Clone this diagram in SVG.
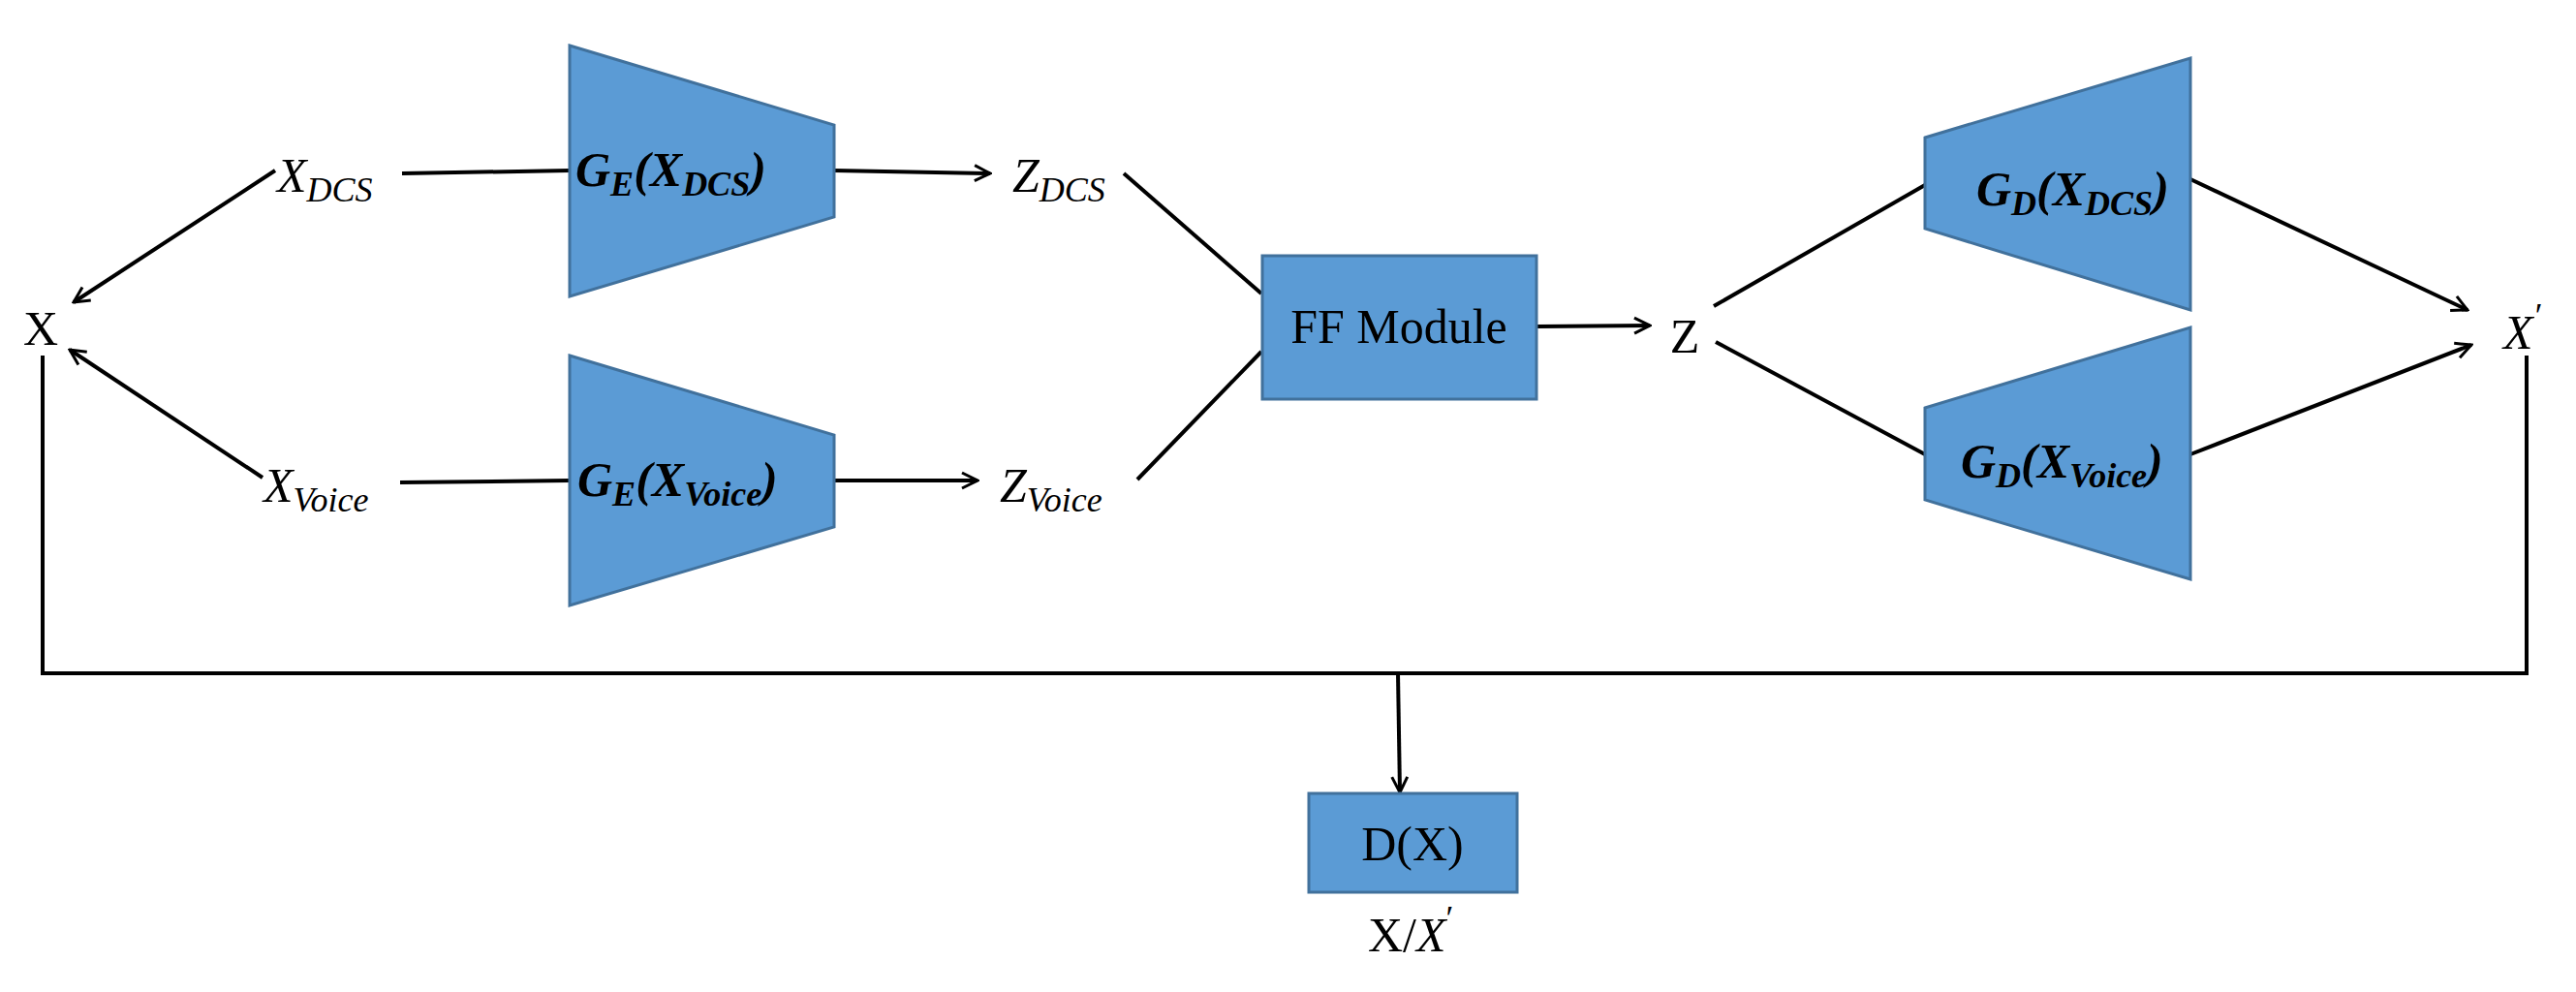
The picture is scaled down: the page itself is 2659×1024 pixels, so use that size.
<svg xmlns="http://www.w3.org/2000/svg" width="2659" height="1024" viewBox="0 0 2659 1024">
<defs>
<marker id="ah" viewBox="0 0 20 20" refX="18" refY="10" markerWidth="20" markerHeight="20" markerUnits="userSpaceOnUse" orient="auto">
<path d="M2,2 L18,10 L2,18" fill="none" stroke="#000" stroke-width="3"/>
</marker>
</defs>
<style>
.sh{fill:#5b9bd5;stroke:#41719c;stroke-width:3}
.c{fill:none;stroke:#000;stroke-width:4}
.t{font-family:"Liberation Serif",serif;font-size:50px;fill:#000}
.i{font-style:italic}
.b{font-weight:bold;font-style:italic}
.s{font-size:36px}
</style>
<rect width="2659" height="1024" fill="#fff"/>
<g id="connectors">
<line class="c" x1="415" y1="179" x2="588" y2="176"/>
<line class="c" x1="861" y1="176" x2="1022" y2="179" marker-end="url(#ah)"/>
<line class="c" x1="284" y1="176" x2="76" y2="312" marker-end="url(#ah)"/>
<line class="c" x1="271" y1="493" x2="72" y2="361" marker-end="url(#ah)"/>
<line class="c" x1="413" y1="498" x2="588" y2="496"/>
<line class="c" x1="861" y1="496" x2="1009" y2="496" marker-end="url(#ah)"/>
<line class="c" x1="1160" y1="179" x2="1302" y2="303"/>
<line class="c" x1="1174" y1="495" x2="1302" y2="363"/>
<line class="c" x1="1586" y1="337" x2="1703" y2="336" marker-end="url(#ah)"/>
<line class="c" x1="1769" y1="316" x2="1987" y2="191"/>
<line class="c" x1="1771" y1="353" x2="1987" y2="469"/>
<line class="c" x1="2261" y1="185" x2="2547" y2="320" marker-end="url(#ah)"/>
<line class="c" x1="2261" y1="469" x2="2551" y2="356" marker-end="url(#ah)"/>
<polyline class="c" points="44,367 44,695 2608,695 2608,367"/>
<line class="c" x1="1443" y1="695" x2="1445" y2="818" marker-end="url(#ah)"/>
</g>
<g id="X"><text class="t" x="42" y="356" text-anchor="middle">X</text></g>
<g id="XDCS"><text class="t i" x="286" y="198">X<tspan class="s" dy="10">DCS</tspan></text></g>
<g id="XVoice"><text class="t i" x="272" y="518">X<tspan class="s" dy="10">Voice</tspan></text></g>
<g id="GE_DCS"><polygon class="sh" points="588,47 861,129 861,224 588,306"/>
<text class="t b" x="594" y="192">G<tspan class="s" dy="10">E</tspan><tspan dy="-10">(X</tspan><tspan class="s" dy="10">DCS</tspan><tspan dy="-10">)</tspan></text></g>
<g id="GE_Voice"><polygon class="sh" points="588,367 861,449 861,544 588,625"/>
<text class="t b" x="596" y="512">G<tspan class="s" dy="10">E</tspan><tspan dy="-10">(X</tspan><tspan class="s" dy="10">Voice</tspan><tspan dy="-10">)</tspan></text></g>
<g id="ZDCS"><text class="t i" x="1045" y="198">Z<tspan class="s" dy="10">DCS</tspan></text></g>
<g id="ZVoice"><text class="t i" x="1032" y="518">Z<tspan class="s" dy="10">Voice</tspan></text></g>
<g id="FF"><rect class="sh" x="1303" y="264" width="283" height="148"/>
<text class="t" x="1444" y="354" text-anchor="middle">FF Module</text></g>
<g id="Z"><text class="t" x="1739" y="364" text-anchor="middle">Z</text></g>
<g id="GD_DCS"><polygon class="sh" points="1987,142 2261,60 2261,320 1987,236"/>
<text class="t b" x="2040" y="212">G<tspan class="s" dy="10">D</tspan><tspan dy="-10">(X</tspan><tspan class="s" dy="10">DCS</tspan><tspan dy="-10">)</tspan></text></g>
<g id="GD_Voice"><polygon class="sh" points="1987,421 2261,338 2261,598 1987,516"/>
<text class="t b" x="2024" y="493">G<tspan class="s" dy="10">D</tspan><tspan dy="-10">(X</tspan><tspan class="s" dy="10">Voice</tspan><tspan dy="-10">)</tspan></text></g>
<g id="Xp"><text class="t i" x="2584" y="360">X<tspan class="s" dy="-22">′</tspan></text></g>
<g id="D"><rect class="sh" x="1351" y="819" width="215" height="102"/>
<text class="t" x="1458" y="888" text-anchor="middle">D(X)</text></g>
<g id="XXp"><text class="t" x="1412" y="982">X/<tspan class="i">X</tspan><tspan class="s" dy="-22">′</tspan></text></g>
</svg>
